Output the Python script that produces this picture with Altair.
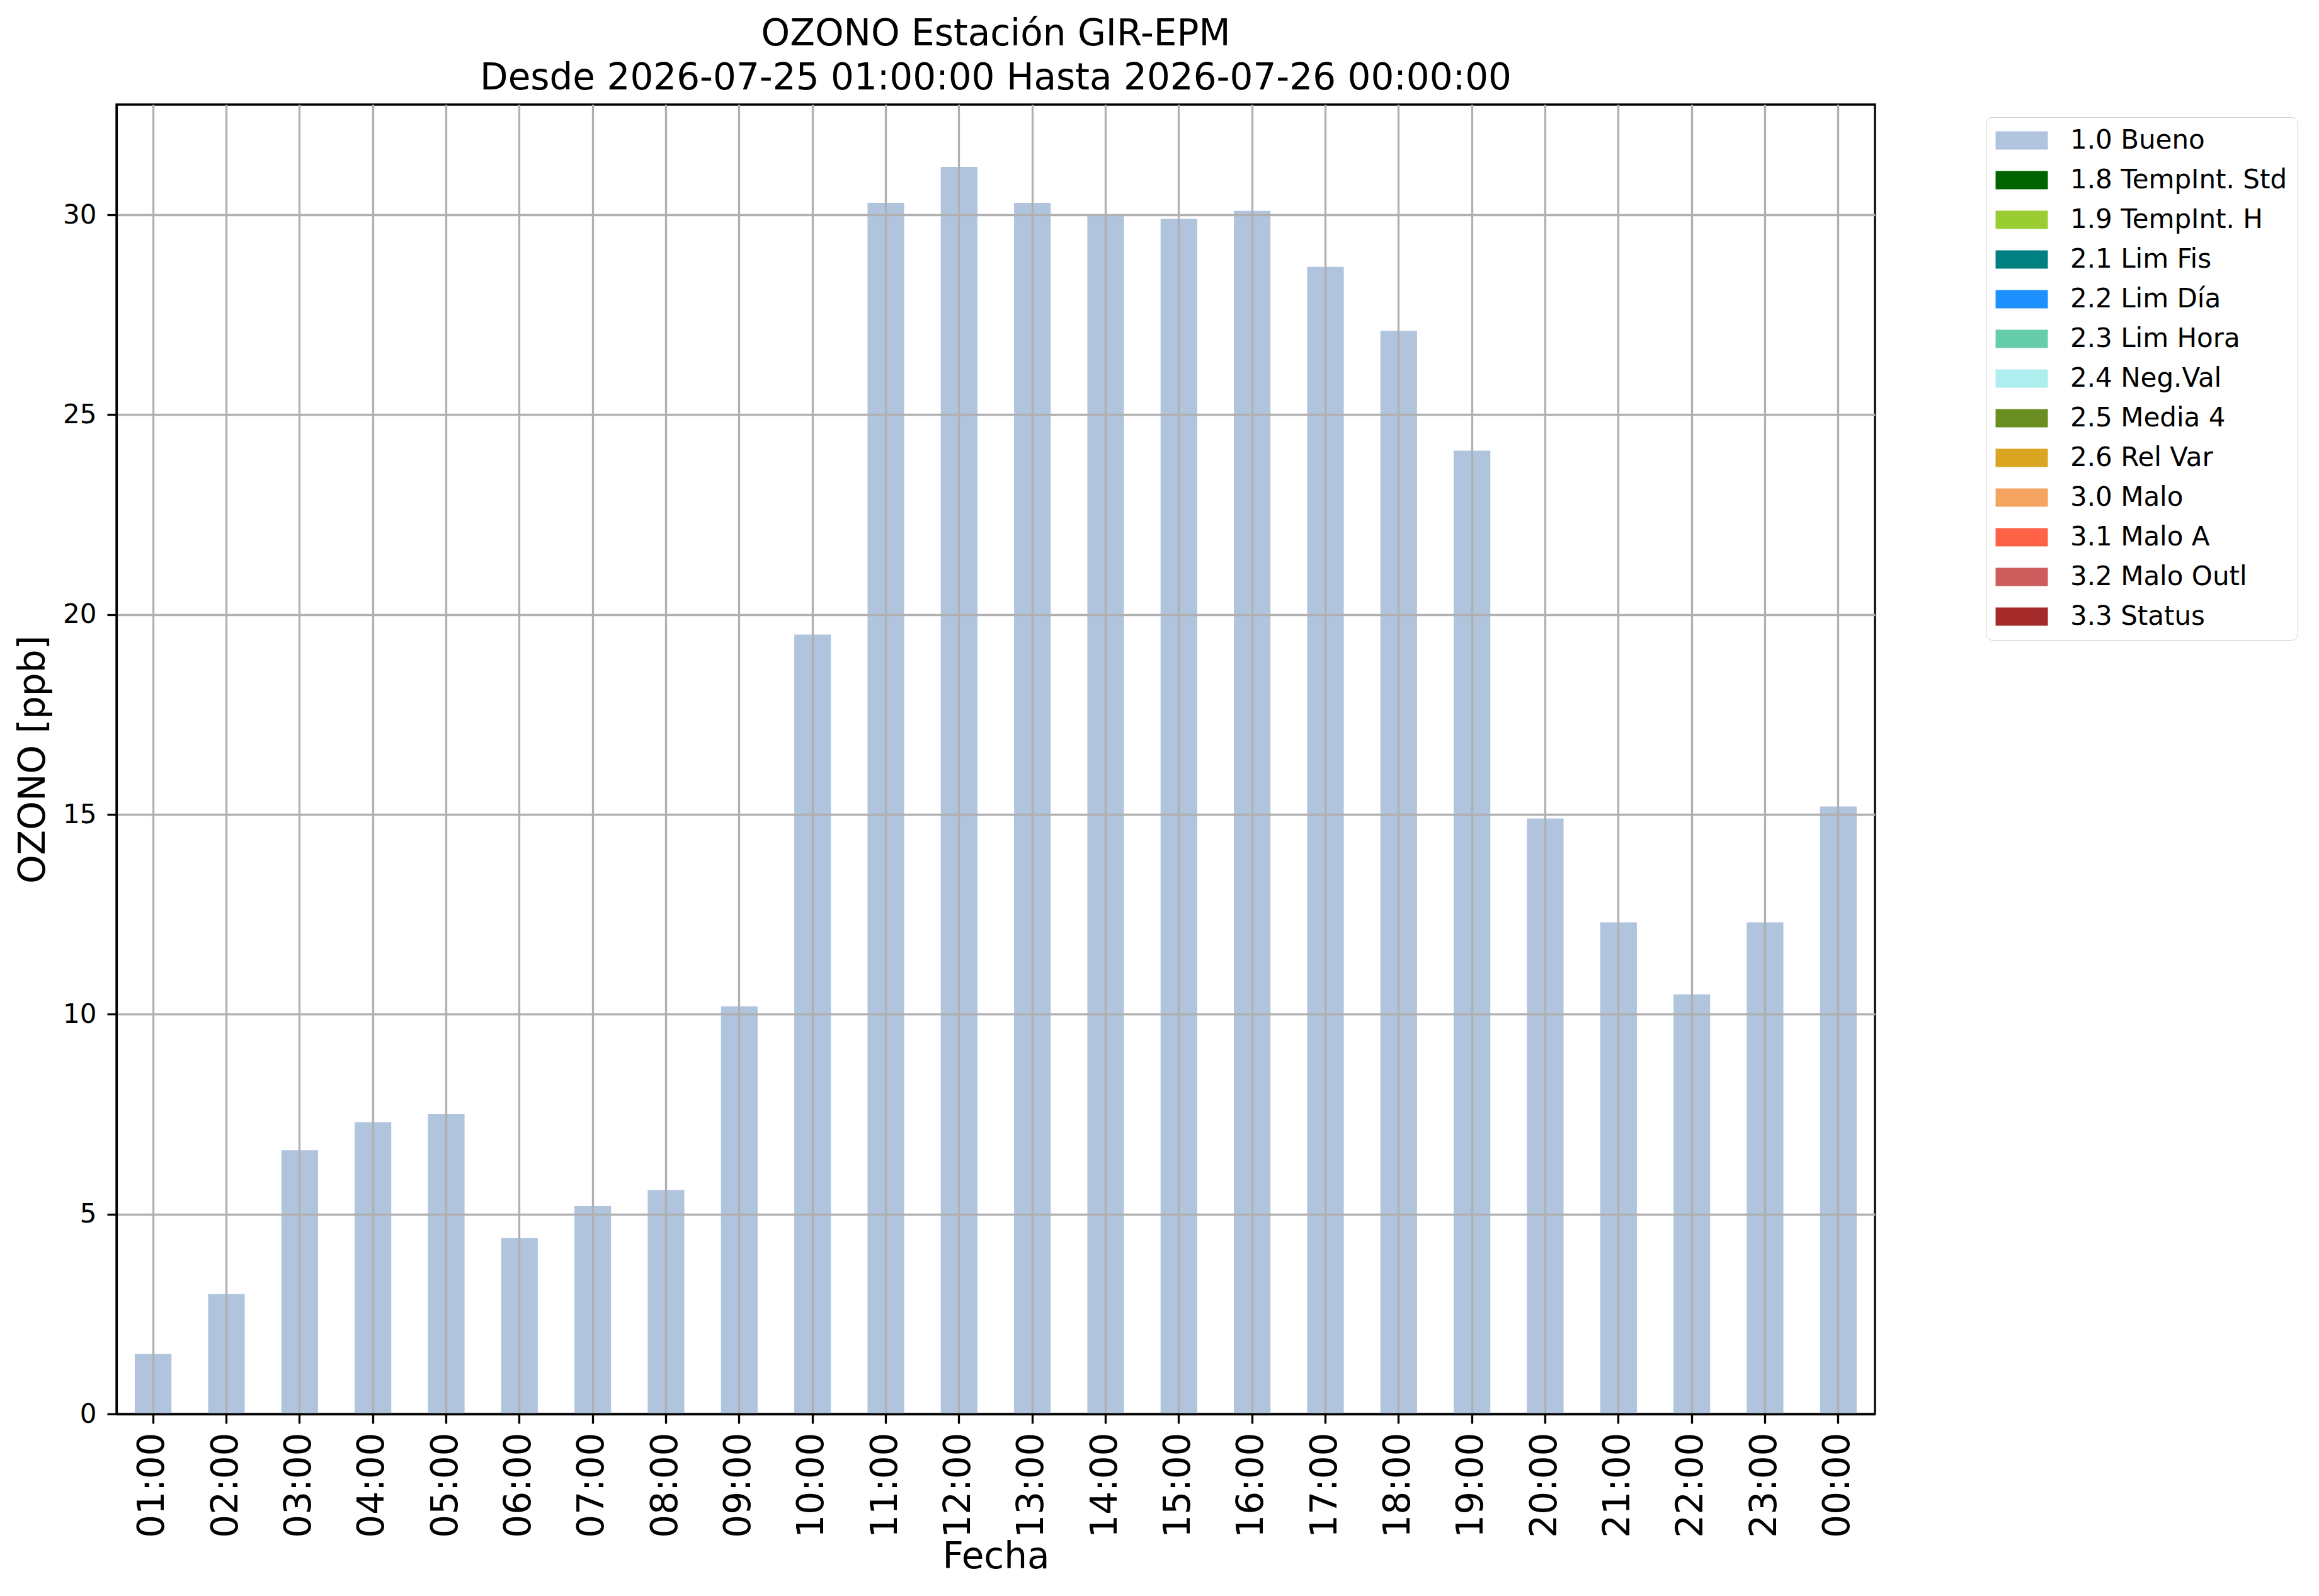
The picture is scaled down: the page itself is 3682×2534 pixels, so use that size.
import altair as alt
import pandas as pd

hours = ["01:00", "02:00", "03:00", "04:00", "05:00", "06:00", "07:00", "08:00",
         "09:00", "10:00", "11:00", "12:00", "13:00", "14:00", "15:00", "16:00",
         "17:00", "18:00", "19:00", "20:00", "21:00", "22:00", "23:00", "00:00"]
ozono = [1.5, 3.0, 6.6, 7.3, 7.5, 4.4, 5.2, 5.6, 10.2, 19.5, 30.3, 31.2,
         30.3, 30.0, 29.9, 30.1, 28.7, 27.1, 24.1, 14.9, 12.3, 10.5, 12.3, 15.2]
flag_of_hour = ["1.0 Bueno"] * 24

flags = ["1.0 Bueno", "1.8 TempInt. Std", "1.9 TempInt. H", "2.1 Lim Fis",
         "2.2 Lim Día", "2.3 Lim Hora", "2.4 Neg.Val", "2.5 Media 4",
         "2.6 Rel Var", "3.0 Malo", "3.1 Malo A", "3.2 Malo Outl", "3.3 Status"]
flag_colors = ["#B0C4DE", "#006400", "#9ACD32", "#008080", "#1E90FF", "#66CDAA",
               "#AFEEEE", "#6B8E23", "#DAA520", "#F4A460", "#FF6347", "#CD5C5C",
               "#A52A2A"]
y_ticks = [0, 5, 10, 15, 20, 25, 30]

title_lines = ["OZONO Estación GIR-EPM",
               "Desde 2026-07-25 01:00:00 Hasta 2026-07-26 00:00:00"]

df = pd.DataFrame({"Fecha": hours, "OZONO": ozono, "Flag": flag_of_hour})
y_top = max(ozono) * 1.05

FONT = "DejaVu Sans"
LW = 3.3


def build(with_encode):
    legend_kw = dict(
        title=None, orient="none", legendX=2968, legendY=20, direction="vertical",
        labelFont=FONT, labelFontSize=42, labelColor="black", labelLimit=1000,
        symbolType="M-1.976,-0.69H1.976V0.69H-1.976Z", symbolSize=1764,
        symbolStrokeWidth=0, symbolOpacity=1, symbolOffset=20,
        labelOffset=56, rowPadding=21, padding=16,
        fillColor="white", strokeColor="#cccccc", cornerRadius=10,
    )
    if with_encode:
        legend_kw["encode"] = {"legend": {"update": {"strokeWidth": {"value": 4}}}}

    chart = alt.Chart(df).mark_bar().encode(
        x=alt.X("Fecha:O", sort=hours,
                scale=alt.Scale(paddingInner=0.5, paddingOuter=0.25),
                axis=alt.Axis(title="Fecha", labelAngle=270, labelAlign="right",
                              labelBaseline="middle", bandPosition=0.5, grid=True,
                              labelFontSize=58, labelPadding=14, labelOverlap=False,
                              labelLimit=1000, titleFontSize=58, titlePadding=2,
                              zindex=1)),
        y=alt.Y("OZONO:Q", stack=None,
                scale=alt.Scale(domain=[0, y_top], nice=False, zero=True),
                axis=alt.Axis(title="OZONO [ppb]", values=y_ticks, format="d",
                              labelFontSize=42, labelPadding=17, titleFontSize=58,
                              titlePadding=17, grid=True, zindex=1)),
        color=alt.Color("Flag:N", scale=alt.Scale(domain=flags, range=flag_colors),
                        legend=alt.Legend(**legend_kw)),
    ).properties(
        width=2792, height=2079,
        title=alt.TitleParams(text=title_lines, fontSize=58, fontWeight="normal",
                              font=FONT, color="black", anchor="middle",
                              frame="group", lineHeight=70, baseline="alphabetic",
                              offset=13, dy=47),
        autosize=alt.AutoSizeParams(type="none"),
        padding={"left": 177, "top": 158, "right": 690, "bottom": 280},
    ).configure_view(
        stroke="black", strokeWidth=LW
    ).configure_axis(
        labelFont=FONT, titleFont=FONT, labelColor="black", titleColor="black",
        titleFontWeight="normal", domainColor="black", domainWidth=LW,
        tickColor="black", tickWidth=LW, tickSize=15,
        gridColor="#b0b0b0", gridWidth=LW, gridOpacity=1,
    )
    return chart


try:
    chart = build(True)
    chart.to_dict()
except Exception:
    chart = build(False)

chart.save("out.html", embed_options={"renderer": "svg", "actions": False})
